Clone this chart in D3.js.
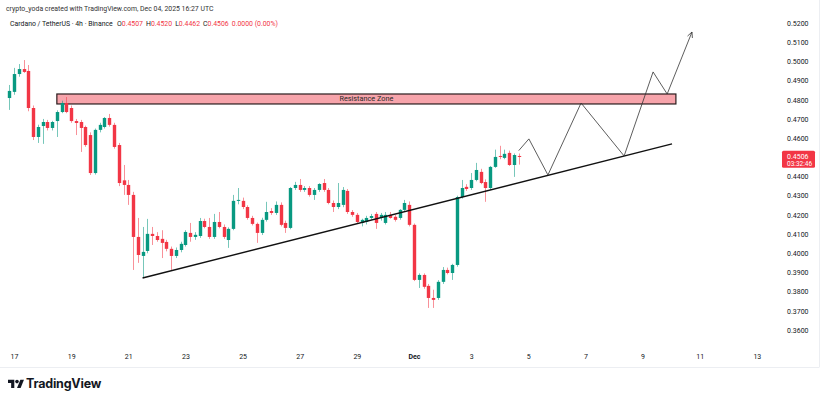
<!DOCTYPE html>
<html><head><meta charset="utf-8">
<script src="https://cdn.jsdelivr.net/npm/d3@7"></script>
<style>
body{margin:0;background:#fff;}
svg{display:block;font-family:Roboto,"Liberation Sans",Arial,sans-serif;}
</style>
</head><body>
<svg id="c" width="825" height="399"></svg>
<script>
// ---- data ----
const firstBarTime = "2025-11-16T20:00:00Z"; // 4h bars
const opens  = [.4809,.4841,.4934,.4960,.4950,.4757,.4606,.4663,.4684,.4653,.4689,.4736,.4783,.4757,.4689,.4684,.4658,.4616,.4418,.4643,.4658,.4705,.4669,.4564,.4380,.4356,.4304,.4085,.3986,.4012,.4101,.4090,.4075,.4059,.4023,.3986,.4017,.4043,.4106,.4085,.4090,.4168,.4137,.4085,.4163,.4137,.4069,.4127,.4273,.4273,.4241,.4184,.4153,.4106,.4174,.4220,.4210,.4252,.4158,.4132,.4340,.4356,.4330,.4340,.4304,.4330,.4366,.4330,.4262,.4241,.4252,.4325,.4215,.4200,.4158,.4163,.4184,.4205,.4184,.4158,.4200,.4190,.4184,.4226,.4252,.4148,.3861,.3887,.3830,.3767,.3767,.3851,.3913,.3897,.3939,.4293,.4346,.4340,.4382,.4424,.4371,.4340,.4450,.4507,.4497,.4523,.4460,.4507];
const highs  = [.4877,.4966,.4986,.5007,.4981,.4770,.4670,.4700,.4695,.4690,.4745,.4795,.4814,.4770,.4700,.4695,.4665,.4630,.4650,.4680,.4710,.4726,.4680,.4575,.4460,.4382,.4320,.4184,.4137,.4179,.4137,.4110,.4120,.4070,.4035,.4030,.4060,.4120,.4158,.4110,.4184,.4180,.4184,.4205,.4215,.4150,.4135,.4304,.4340,.4290,.4250,.4195,.4160,.4185,.4268,.4235,.4270,.4265,.4170,.4345,.4372,.4387,.4350,.4350,.4340,.4365,.4387,.4340,.4275,.4366,.4345,.4335,.4225,.4210,.4180,.4195,.4205,.4215,.4210,.4215,.4215,.4200,.4230,.4278,.4270,.4155,.3895,.3895,.3840,.3810,.3860,.3928,.3925,.3945,.4300,.4382,.4360,.4418,.4471,.4440,.4385,.4455,.4540,.4560,.4540,.4535,.4520,.4520];
const lows   = [.4747,.4826,.4920,.4940,.4740,.4590,.4575,.4570,.4640,.4640,.4606,.4730,.4730,.4680,.4616,.4528,.4555,.4408,.4410,.4630,.4650,.4660,.4545,.4350,.4304,.4252,.3913,.3950,.3871,.4000,.4043,.4060,.3975,.4010,.3913,.3975,.4005,.4035,.4060,.4070,.4080,.4130,.4075,.4075,.4130,.4075,.4028,.4120,.4255,.4230,.4175,.4145,.4054,.4095,.4165,.4200,.4200,.4140,.4106,.4125,.4330,.4320,.4320,.4295,.4278,.4320,.4320,.4255,.4215,.4230,.4240,.4205,.4190,.4155,.4140,.4150,.4175,.4127,.4170,.4150,.4180,.4165,.4175,.4215,.4140,.3855,.3819,.3815,.3715,.3715,.3757,.3840,.3890,.3861,.3930,.4285,.4325,.4330,.4375,.4360,.4268,.4330,.4445,.4490,.4490,.4455,.4398,.4462];
const closes = [.4846,.4934,.4960,.4945,.4757,.4606,.4658,.4684,.4653,.4684,.4736,.4783,.4736,.4689,.4679,.4653,.4564,.4418,.4643,.4669,.4705,.4669,.4554,.4366,.4356,.4304,.4085,.3991,.4007,.4101,.4090,.4069,.4054,.4023,.3986,.4017,.4049,.4111,.4085,.4096,.4168,.4137,.4085,.4163,.4137,.4085,.4127,.4273,.4278,.4241,.4184,.4153,.4106,.4174,.4215,.4210,.4252,.4148,.4132,.4340,.4356,.4330,.4340,.4304,.4330,.4361,.4330,.4262,.4241,.4262,.4330,.4215,.4200,.4163,.4174,.4184,.4194,.4158,.4200,.4200,.4184,.4174,.4226,.4262,.4148,.3861,.3887,.3825,.3767,.3757,.3851,.3913,.3897,.3939,.4293,.4340,.4335,.4382,.4434,.4366,.4340,.4450,.4502,.4502,.4518,.4460,.4512,.4506];

// 0.4500 is hidden behind the last-price label in the reference
const priceTicks = [0.52,0.51,0.50,0.49,0.48,0.47,0.46,0.44,0.43,0.42,0.41,0.40,0.39,0.38,0.37,0.36];
const timeTicks = ["2025-11-17","2025-11-19","2025-11-21","2025-11-23","2025-11-25","2025-11-27","2025-11-29","2025-12-01","2025-12-03","2025-12-05","2025-12-07","2025-12-09","2025-12-11","2025-12-13"];
const timeTickLabels = ["17","19","21","23","25","27","29","Dec","3","5","7","9","11","13"];

const resistanceZone = {from:"2025-11-18T12:00:00Z", to:"2025-12-10T04:00:00Z", low:0.4778, high:0.4830, label:"Resistance Zone"};
const trendLine = [["2025-11-21T12:00:00Z",0.3871],["2025-12-10T00:45:00Z",0.4570]];
const projectionTimes  = ["2025-12-04T16:00:00Z","2025-12-05T00:30:00Z","2025-12-05T16:30:00Z","2025-12-06T20:20:00Z","2025-12-08T08:30:00Z","2025-12-09T08:50:00Z","2025-12-09T20:40:00Z","2025-12-10T17:30:00Z"];
const projectionPrices = [0.4535,0.4596,0.4408,0.4783,0.4507,0.4945,0.4830,0.5153];

const lastPrice = 0.4506, countdown = "03:32:46";
const headerLine = "crypto_yoda created with TradingView.com, Dec 04, 2025 16:27 UTC";
const symbolLine = "Cardano / TetherUS · 4h · Binance";
const ohlcLabels = [["O","0.4507"],["H","0.4520"],["L","0.4462"],["C","0.4506"]];
const changeText = "0.0000 (0.00%)";

// ---- drawing ----
const UP = "#089981", DOWN = "#f23645", TXT = "#131722";
const svg = d3.select("#c");
const x = d3.scaleUtc().domain([new Date("2025-11-17T00:00:00Z"), new Date("2025-12-01T00:00:00Z")]).range([14, 414]);
const y = d3.scaleLinear().domain([0.36, 0.52]).range([330, 23]);

const t0 = new Date(firstBarTime).getTime();
const bars = opens.map((o,i)=>({t:new Date(t0 + i*4*3600*1000), o, h:highs[i], l:lows[i], c:closes[i]}));

// frame edges
svg.append("line").attr("x1",819.5).attr("x2",819.5).attr("y1",0).attr("y2",367).attr("stroke","#eceef2");
svg.append("line").attr("x1",0).attr("x2",819.5).attr("y1",367.5).attr("y2",367.5).attr("stroke","#eceef2");

// resistance zone
svg.append("rect")
  .attr("x", x(new Date(resistanceZone.from)))
  .attr("y", y(resistanceZone.high))
  .attr("width", x(new Date(resistanceZone.to)) - x(new Date(resistanceZone.from)))
  .attr("height", y(resistanceZone.low) - y(resistanceZone.high))
  .attr("fill","#f7a4ab").attr("stroke","#2a1c1e").attr("stroke-width",1.2);
svg.append("text")
  .attr("x",(x(new Date(resistanceZone.from))+x(new Date(resistanceZone.to)))/2)
  .attr("y",(y(resistanceZone.low)+y(resistanceZone.high))/2+2.5)
  .attr("text-anchor","middle").attr("font-size",7.3).attr("fill","#2a2a2a")
  .text(resistanceZone.label);

// candles
const g = svg.append("g");
bars.forEach(b=>{
  const cx = Math.round(x(b.t)) + 0.5;
  const col = b.c >= b.o ? UP : DOWN;
  g.append("line").attr("x1",cx).attr("x2",cx).attr("y1",y(b.h)).attr("y2",y(b.l))
    .attr("stroke",col).attr("stroke-opacity",0.55).attr("stroke-width",1);
  const top = y(Math.max(b.o,b.c)), bot = y(Math.min(b.o,b.c));
  g.append("rect").attr("x",cx-1.7).attr("width",3.4).attr("y",top).attr("height",Math.max(1,bot-top)).attr("fill",col);
});

// trend line
svg.append("line")
  .attr("x1",x(new Date(trendLine[0][0]))).attr("y1",y(trendLine[0][1]))
  .attr("x2",x(new Date(trendLine[1][0]))).attr("y2",y(trendLine[1][1]))
  .attr("stroke","#111").attr("stroke-width",1.4);

// projection path
const pts = projectionTimes.map((t,i)=>[x(new Date(t)), y(projectionPrices[i])]);
svg.append("path").attr("d", d3.line()(pts)).attr("fill","none").attr("stroke","#333").attr("stroke-width",0.8);
{
  const [x2,y2] = pts[pts.length-1], [x1,y1] = pts[pts.length-2];
  const a = Math.atan2(y2-y1, x2-x1), L = 6;
  const p1 = [x2 - L*Math.cos(a-0.45), y2 - L*Math.sin(a-0.45)];
  const p2 = [x2 - L*Math.cos(a+0.45), y2 - L*Math.sin(a+0.45)];
  svg.append("path").attr("d", d3.line()([p1,[x2,y2],p2])).attr("fill","none").attr("stroke","#333").attr("stroke-width",0.8);
}

// price axis labels
const yAxis = d3.axisRight(y).tickValues(priceTicks).tickFormat(d3.format(".4f")).tickSize(0).tickPadding(0);
const ya = svg.append("g").attr("transform","translate(787,0)").call(yAxis);
ya.select(".domain").remove();
ya.selectAll("text").attr("font-size",7).attr("fill",TXT).attr("font-family","Roboto,'Liberation Sans',sans-serif");

// last price label
const ly = y(lastPrice);
svg.append("rect").attr("x",782).attr("y",ly-5.5).attr("width",33).attr("height",17).attr("rx",1.5).attr("fill",DOWN);
svg.append("text").attr("x",787).attr("y",ly+2.5).attr("font-size",7).attr("fill","#fff").text(d3.format(".4f")(lastPrice));
svg.append("text").attr("x",787).attr("y",ly+9.8).attr("font-size",6.5).attr("fill","#fff").text(countdown);

// time axis
const xAxis = d3.axisBottom(x).tickValues(timeTicks.map(d=>new Date(d+"T00:00:00Z")))
  .tickFormat((d,i)=>timeTickLabels[i]).tickSize(0).tickPadding(0);
const xa = svg.append("g").attr("transform","translate(0,354)").call(xAxis);
xa.select(".domain").remove();
xa.selectAll("text").attr("font-size",7).attr("fill",TXT).attr("font-family","Roboto,'Liberation Sans',sans-serif")
  .attr("font-weight",(d,i)=>timeTickLabels[i]==="Dec"?"bold":"normal");

// header texts
svg.append("text").attr("x",6).attr("y",11).attr("font-size",6.9).attr("fill","#333").text(headerLine);
{
  const fs = 6.9, startX = 10, endX = 278, yy = 26;
  const sl = svg.append("g").attr("font-size",fs);
  const pieces = [];
  pieces.push(sl.append("text").attr("y",yy).attr("fill",TXT).text(symbolLine));
  ohlcLabels.forEach(([k,v])=>{
    const t = sl.append("text").attr("y",yy);
    t.append("tspan").attr("fill",TXT).text(k);
    t.append("tspan").attr("fill",DOWN).text(v);
    pieces.push(t);
  });
  pieces.push(sl.append("text").attr("y",yy).attr("fill",DOWN).text(changeText));
  const widths = pieces.map(p=>p.node().getComputedTextLength());
  const total = d3.sum(widths);
  const gap = Math.max(3, (endX - startX - total) / (pieces.length - 1));
  let cx = startX;
  pieces.forEach((p,i)=>{ p.attr("x",cx); cx += widths[i] + (i===0 ? gap*1.3 : gap*0.92); });
}

// TradingView logo
const logo = svg.append("g").attr("transform","translate(8,378) scale(0.45)").attr("fill",TXT);
logo.append("path").attr("d","M14 22H7V11H0V4h14v18z");
logo.append("circle").attr("cx",20).attr("cy",8).attr("r",4);
logo.append("path").attr("d","M28 22h-8l7.5-18h8L28 22z");
svg.append("text").attr("x",26).attr("y",388).attr("font-size",12.5).attr("font-weight","bold")
  .attr("fill",TXT).attr("font-family","Inter,Roboto,sans-serif").attr("letter-spacing",-0.2).text("TradingView");
</script>
</body></html>
